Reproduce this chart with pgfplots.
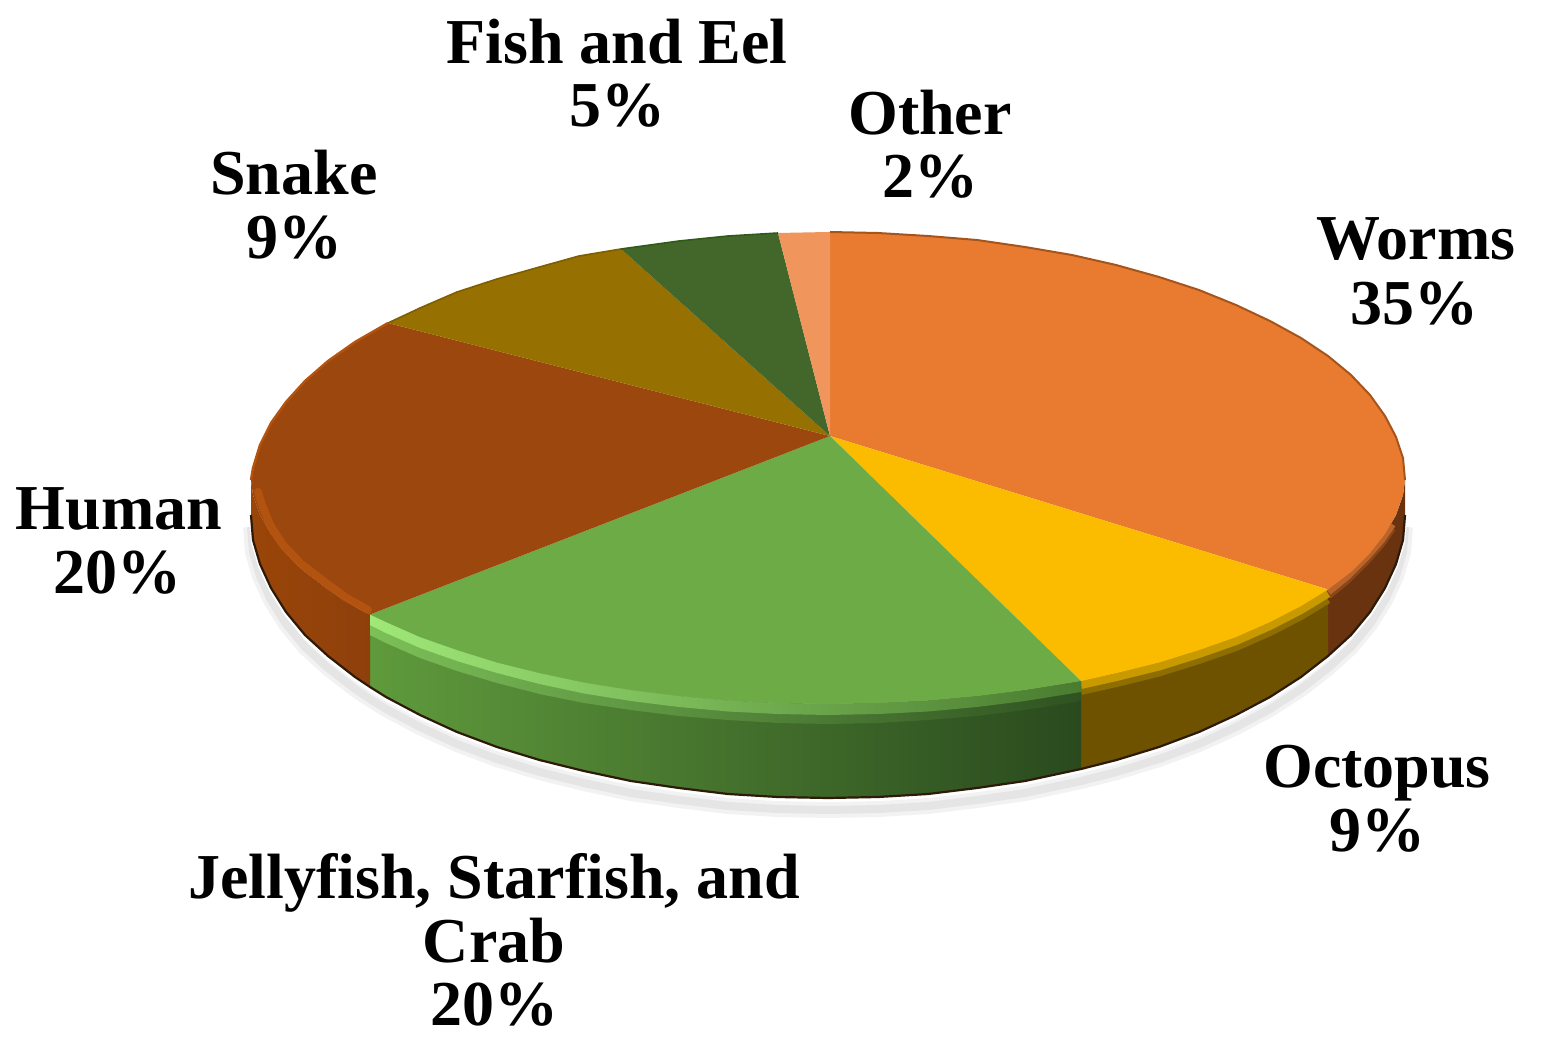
\documentclass[border=0pt]{standalone}
\usepackage{fontspec}
\usepackage{pgfplots}
\usepackage{pgfplotstable}
\pgfplotsset{compat=1.18}
\setmainfont{Liberation Serif}
\definecolor{cW}{HTML}{E97B31}\definecolor{cO}{HTML}{FBBC00}\definecolor{cJ}{HTML}{6DAB47}
\definecolor{cH}{HTML}{9C470D}\definecolor{cS}{HTML}{967000}\definecolor{cF}{HTML}{43672A}\definecolor{cT}{HTML}{F0955C}
\definecolor{sW}{HTML}{6A3310}\definecolor{sO}{HTML}{6E5200}
\definecolor{sJa}{HTML}{5F9A3C}\definecolor{sJb}{HTML}{4C7A2E}\definecolor{sJc}{HTML}{2A4A1E}
\definecolor{sHa}{HTML}{9A4509}\definecolor{sHb}{HTML}{8E400B}
\definecolor{edge}{HTML}{2E1A08}
\definecolor{bWa}{HTML}{8A4518}\definecolor{bWb}{HTML}{B8642A}
\definecolor{bOa}{HTML}{8E6E00}\definecolor{bOb}{HTML}{C89A00}
\definecolor{bH}{HTML}{BE5A12}
\definecolor{rW}{HTML}{A5541C}\definecolor{rH}{HTML}{B5520E}\definecolor{rS}{HTML}{7F5E00}\definecolor{rF}{HTML}{2F5A18}
\definecolor{hJa}{HTML}{A0E878}\definecolor{hJb}{HTML}{96DA72}\definecolor{hJc}{HTML}{4A7C30}
\definecolor{gJa}{HTML}{7CC058}\definecolor{gJb}{HTML}{689E44}\definecolor{gJc}{HTML}{2F5220}
% slices of the top face
\pgfplotstableread{
x y
830 436
830 232
878 233
928 236
977 240
1025 247
1072 255
1116 265
1159 277
1199 290
1236 305
1270 321
1301 338
1328 356
1351 375
1370 395
1385 416
1396 437
1403 458
1405 480
1403 495
1396 515
1385 534
1370 553
1351 572
1328 589.5
830 436
}\worms
\pgfplotstableread{
x y
830 436
1328 589.5
1301 606
1270 622
1236 637
1199 650
1159 662.5
1116.5 673
1081 681
830 436
}\octopus
\pgfplotstableread{
x y
830 436
1081 681
1025 690
977 696
928 700.5
878 703
828 704
778 703
728 700.5
679 696
631 690
584 682.5
539.5 673
497 662.5
457 650
420 637
386 622
370 614.5
830 436
}\jelly
\pgfplotstableread{
x y
830 436
370 614.5
355 606
328 589.5
305 572
286 553
271 534
260 515
253 495
251 480
253 468
260 445
271 423
286 402
305 381
328 361
355 342
388 323
830 436
}\human
\pgfplotstableread{
x y
830 436
388 323
420 308
457 292
497 279
539.5 267
579 256
621 249
830 436
}\snake
\pgfplotstableread{
x y
830 436
621 249
679 241
728 236
778 233
830 436
}\fish
\pgfplotstableread{
x y
830 436
778 233
828 232
830 232
830 436
}\other
% side faces
\pgfplotstableread{
x y
1405 480
1403 495
1396 515
1385 534
1370 553
1351 572
1328 589.5
1328 656
1351 635
1370 612
1385 588
1396 564
1403 540
1405 515
}\wormsS
\pgfplotstableread{
x y
1328 589.5
1301 606
1270 622
1236 637
1199 650
1159 662.5
1116.5 673
1081 681
1081 769
1116.5 760
1159 747
1199 732
1236 715
1270 697
1301 677
1328 656
}\octopusS
\pgfplotstableread{
x y
1081 681
1025 690
977 696
928 700.5
878 703
828 704
778 703
728 700.5
679 696
631 690
584 682.5
539.5 673
497 662.5
457 650
420 637
386 622
370 614.5
370 687
386 697
420 715
457 732
497 747
539.5 760
584 771
631 781
679 788
728 794
778 797
828 798
878 797
928 794
977 788
1025 781
1081 769
}\jellyS
\pgfplotstableread{
x y
370 614.5
355 606
328 589.5
305 572
286 553
271 534
260 515
253 495
251 480
251 515
253 540
260 564
271 588
286 612
305 635
328 656
355 677
370 687
}\humanS
% bright and blurred strips of the rim of the jellyfish slice
\pgfplotstableread{
x y
1081 681
1025 690
977 696
928 700.5
878 703
828 704
778 703
728 700.5
679 696
631 690
584 682.5
539.5 673
497 662.5
457 650
420 637
386 622
370 614.5
370 635
386 643
420 658
457 671
497 683
539.5 694
584 703
631 710
679 716
728 720
778 723
828 724
878 723
928 720
977 716
1025 710
1081 701
}\jellyG
\pgfplotstableread{
x y
1081 681
1025 690
977 696
928 700.5
878 703
828 704
778 703
728 700.5
679 696
631 690
584 682.5
539.5 673
497 662.5
457 650
420 637
386 622
370 614.5
370 625
386 633
420 648
457 661
497 673
539.5 684
584 693.5
631 701
679 707
728 711.5
778 714
828 715
878 714
928 711.5
977 707
1025 701
1081 692
}\jellyH
% edges
\pgfplotstableread{
x y
251 515
253 540
260 564
271 588
286 612
305 635
328 656
355 677
370 687
386 697
420 715
457 732
497 747
539.5 760
584 771
631 781
679 788
728 794
778 797
828 798
878 797
928 794
977 788
1025 781
1081 769
1116.5 760
1159 747
1199 732
1236 715
1270 697
1301 677
1328 656
1351 635
1370 612
1385 588
1396 564
1403 540
1405 515
}\bottomedge
\pgfplotstableread{
x y
1328 589.5
1301 606
1270 622
1236 637
1199 650
1159 662.5
1116.5 673
1081 681
}\octT
\pgfplotstableread{
x y
1392 522
1381 538
1366 555
1347 574
1328 589.5
}\wormsT
\pgfplotstableread{
x y
368 610
345 597
322 580
300 563
283 545
270 525
262 505
258 492
}\humanB
\pgfplotstableread{
x y
830 232
878 233
928 236
977 240
1025 247
1072 255
1116 265
1159 277
1199 290
1236 305
1270 321
1301 338
1328 356
1351 375
1370 395
1385 416
1396 437
1403 458
1405 480
}\wormsU
\pgfplotstableread{
x y
251 480
253 468
260 445
271 423
286 402
305 381
328 361
355 342
388 323
}\humanU
\pgfplotstableread{
x y
388 323
420 308
457 292
497 279
539.5 267
579 256
621 249
}\snakeU
\pgfplotstableread{
x y
621 249
679 241
728 236
778 233
}\fishU
\begin{document}
\begin{tikzpicture}
\begin{axis}[
  scale only axis, width=771pt, height=521.5pt,
  xmin=0, xmax=1542, ymin=0, ymax=1043, y dir=reverse,
  hide axis, clip=true,
  every axis plot/.append style={line join=round},
]
\addplot[draw=none, fill=white] coordinates {(0,0) (1542,0) (1542,1043) (0,1043) (0,0)};
% shadow under the pie
\addplot[draw=black!5, line width=8pt, yshift=-6pt] table {\bottomedge};
\addplot[draw=black!10, line width=4pt, yshift=-6pt] table {\bottomedge};
\addplot[draw=white, line width=2pt, yshift=-1pt] table {\bottomedge};
% side faces
\addplot[draw=none, fill=sW] table {\wormsS};
\addplot[draw=none, fill=sO] table {\octopusS};
\addplot[draw=none, left color=sJa, middle color=sJb, right color=sJc] table {\jellyS};
\addplot[draw=none, left color=sHa, right color=sHb] table {\humanS};
% dark lower edge
\addplot[draw=edge, line width=1.1pt] table {\bottomedge};
% rim strips
\addplot[draw=bWa, line width=4pt, yshift=-3pt] table {\wormsT};
\addplot[draw=bWb, line width=4pt, yshift=-1pt] table {\wormsT};
\addplot[draw=bOa, line width=4pt, yshift=-5pt] table {\octT};
\addplot[draw=bOb, line width=4pt, yshift=-2pt] table {\octT};
\addplot[draw=none, left color=gJa, middle color=gJb, right color=gJc] table {\jellyG};
\addplot[draw=none, left color=hJa, middle color=hJb, right color=hJc] table {\jellyH};
% top face
\addplot[draw=none, fill=cW] table {\worms};
\addplot[draw=none, fill=cO] table {\octopus};
\addplot[draw=none, fill=cJ] table {\jelly};
\addplot[draw=none, fill=cH] table {\human};
\addplot[draw=none, fill=cS] table {\snake};
\addplot[draw=none, fill=cF] table {\fish};
\addplot[draw=none, fill=cT] table {\other};
% lighter band on the edge of the human slice
\addplot[draw=bH, line width=4pt, opacity=.65, line cap=round] table {\humanB};
% rim on the far side
\addplot[draw=rW, line width=1pt] table {\wormsU};
\addplot[draw=rH, line width=1.2pt] table {\humanU};
\addplot[draw=rS, line width=.8pt] table {\snakeU};
\addplot[draw=rF, line width=.8pt] table {\fishU};
% labels
\def\L#1#2#3{\node[anchor=base, font=\fontsize{32}{32}\selectfont\bfseries, inner sep=0pt, text=black] at (axis cs:#1,#2) {#3};}
\L{617}{64}{Fish and Eel}
\L{617}{127}{5\%}
\L{930}{135}{Other}
\L{930}{198}{2\%}
\L{294}{195}{Snake}
\L{294}{259}{9\%}
\L{1416}{260}{Worms}
\L{1414}{324}{35\%}
\L{119}{529}{Human}
\L{118}{593}{20\%}
\L{1377}{787}{Octopus}
\L{1377}{851}{9\%}
\L{494}{898}{Jellyfish, Starfish, and}
\L{494}{962}{Crab}
\L{494}{1025}{20\%}
\end{axis}
\end{tikzpicture}
\end{document}
